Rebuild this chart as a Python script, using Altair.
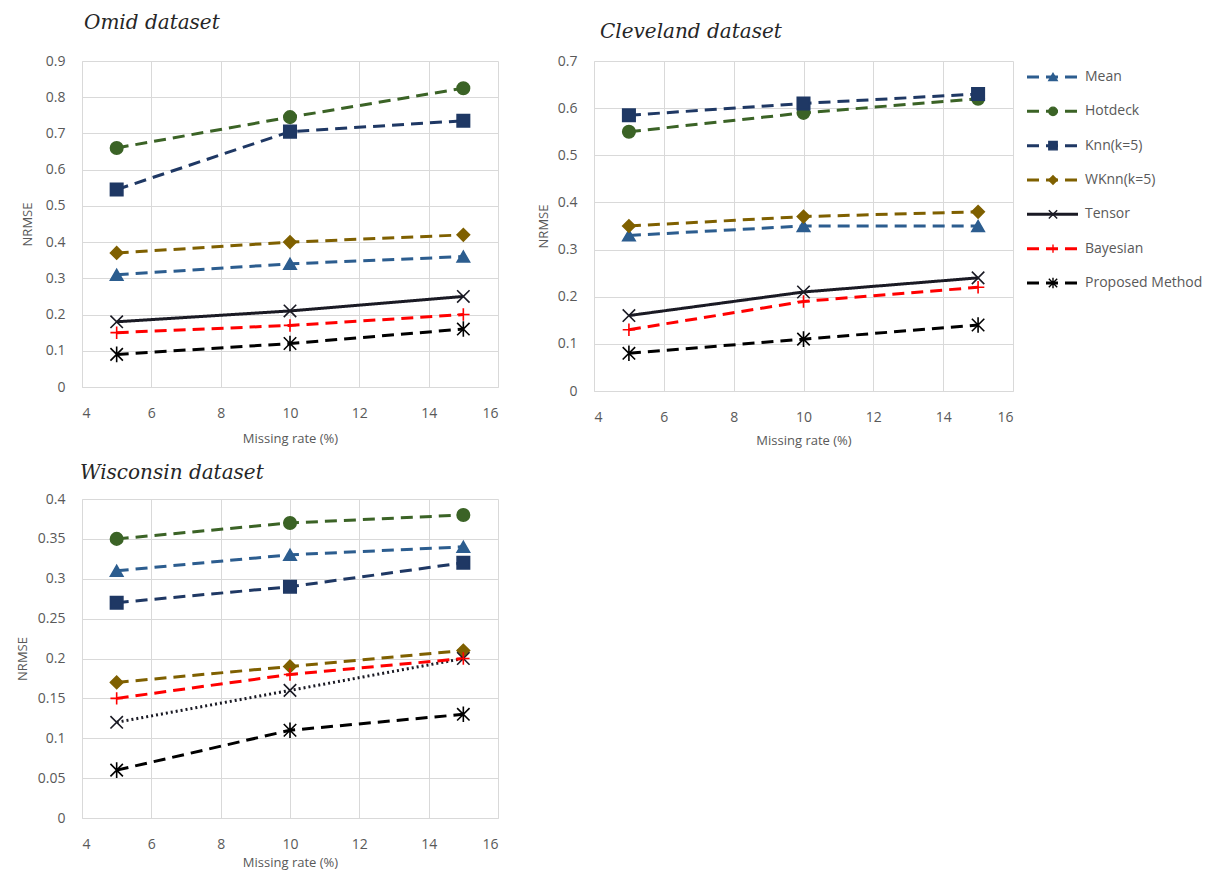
import altair as alt
import pandas as pd

RATES = [5, 10, 15]
SERIES = ["Mean", "Hotdeck", "Knn(k=5)", "WKnn(k=5)", "Tensor", "Bayesian", "Proposed Method"]
COLORS = ["#2C5D8F", "#3B6326", "#1F3864", "#7F6000", "#1A1A24", "#FF0000", "#000000"]

# NRMSE values, one list per method (rates 5, 10, 15)
OMID_MEAN = [0.31, 0.34, 0.36]
OMID_HOTDECK = [0.66, 0.745, 0.825]
OMID_KNN = [0.545, 0.705, 0.735]
OMID_WKNN = [0.37, 0.40, 0.42]
OMID_TENSOR = [0.18, 0.21, 0.25]
OMID_BAYES = [0.15, 0.17, 0.20]
OMID_PROP = [0.09, 0.12, 0.16]

CLEV_MEAN = [0.33, 0.35, 0.35]
CLEV_HOTDECK = [0.55, 0.59, 0.62]
CLEV_KNN = [0.585, 0.61, 0.63]
CLEV_WKNN = [0.35, 0.37, 0.38]
CLEV_TENSOR = [0.16, 0.21, 0.24]
CLEV_BAYES = [0.13, 0.19, 0.22]
CLEV_PROP = [0.08, 0.11, 0.14]

WISC_MEAN = [0.31, 0.33, 0.34]
WISC_HOTDECK = [0.35, 0.37, 0.38]
WISC_KNN = [0.27, 0.29, 0.32]
WISC_WKNN = [0.17, 0.19, 0.21]
WISC_TENSOR = [0.12, 0.16, 0.20]
WISC_BAYES = [0.15, 0.18, 0.20]
WISC_PROP = [0.06, 0.11, 0.13]

OMID_TICKS = [0, 0.1, 0.2, 0.3, 0.4, 0.5, 0.6, 0.7, 0.8, 0.9]
CLEV_TICKS = [0, 0.1, 0.2, 0.3, 0.4, 0.5, 0.6, 0.7]
WISC_TICKS = [0, 0.05, 0.1, 0.15, 0.2, 0.25, 0.3, 0.35, 0.4]
X_TICKS = [4, 6, 8, 10, 12, 14, 16]

SHAPES = [
    "triangle-up",
    "circle",
    "square",
    "diamond",
    "M-1,-1L1,1M-1,1L1,-1",
    "M-1,0L1,0M0,-1L0,1",
    "M-1,-1L1,1M-1,1L1,-1M0,-1.25L0,1.25",
]
DASH = [12, 7]
DASHES_SOLID_TENSOR = [DASH, DASH, DASH, DASH, [1, 0], DASH, DASH]
DASHES_DOTTED_TENSOR = [DASH, DASH, DASH, DASH, [2, 3], DASH, DASH]
WIDTHS = [3, 3, 3, 3, 2.2, 3, 3]

LABEL_FONT = "Open Sans"
GRAY = "#595959"


def make_df(lists):
    rows = []
    for name, vals in zip(SERIES, lists):
        for r, v in zip(RATES, vals):
            rows.append({"series": name, "rate": r, "nrmse": v})
    return pd.DataFrame(rows)


def panel(lists, ymax, ticks, dashes, ytitle_pad, xtitle_pad):
    df = make_df(lists)
    base = alt.Chart(df)
    x = alt.X(
        "rate:Q",
        scale=alt.Scale(domain=[4, 16], nice=False, zero=False),
        axis=alt.Axis(values=X_TICKS, title="Missing rate (%)", titlePadding=xtitle_pad),
    )
    y = alt.Y(
        "nrmse:Q",
        scale=alt.Scale(domain=[0, ymax], nice=False),
        axis=alt.Axis(values=ticks, format="~g", title="NRMSE", titlePadding=ytitle_pad),
    )
    color = alt.Color("series:N", scale=alt.Scale(domain=SERIES, range=COLORS), legend=None)
    lines = base.mark_line().encode(
        x=x,
        y=y,
        color=color,
        strokeDash=alt.StrokeDash("series:N", scale=alt.Scale(domain=SERIES, range=dashes), legend=None),
        strokeWidth=alt.StrokeWidth("series:N", scale=alt.Scale(domain=SERIES, range=WIDTHS), legend=None),
    )
    points = base.mark_point(filled=True, opacity=1, size=155, strokeWidth=1.6).encode(
        x=x,
        y=y,
        color=color,
        stroke=alt.Stroke("series:N", scale=alt.Scale(domain=SERIES, range=COLORS), legend=None),
        shape=alt.Shape("series:N", scale=alt.Scale(domain=SERIES, range=SHAPES), legend=None),
    )
    return alt.layer(lines, points)


def title(text, offset, dx):
    return alt.TitleParams(
        text,
        anchor="start",
        frame="group",
        font="DejaVu Serif",
        fontStyle="italic",
        fontWeight="normal",
        fontSize=20,
        color="#262626",
        offset=offset,
        dx=dx,
    )


# manual legend drawn to the right of the Cleveland plot
CLEV_W = 419
leg_df = pd.DataFrame({"series": SERIES})
leg_base = alt.Chart(leg_df)
leg_y = alt.Y("series:N", sort=SERIES,
              scale=alt.Scale(type="point", domain=SERIES, range=[16, 222], padding=0), axis=None)
leg_color = alt.Color("series:N", scale=alt.Scale(domain=SERIES, range=COLORS), legend=None)
leg_lines = leg_base.mark_rule().encode(
    x=alt.value(CLEV_W + 14),
    x2=alt.value(CLEV_W + 65),
    y=leg_y,
    color=leg_color,
    strokeDash=alt.StrokeDash("series:N", scale=alt.Scale(domain=SERIES, range=DASHES_SOLID_TENSOR), legend=None),
    strokeWidth=alt.StrokeWidth("series:N", scale=alt.Scale(domain=SERIES, range=WIDTHS), legend=None),
)
leg_points = leg_base.mark_point(filled=True, opacity=1, size=70, strokeWidth=1.4).encode(
    x=alt.value(CLEV_W + 40),
    y=leg_y,
    color=leg_color,
    stroke=alt.Stroke("series:N", scale=alt.Scale(domain=SERIES, range=COLORS), legend=None),
    shape=alt.Shape("series:N", scale=alt.Scale(domain=SERIES, range=SHAPES), legend=None),
)
leg_text = leg_base.mark_text(align="left", baseline="middle", font=LABEL_FONT, fontSize=14, color=GRAY).encode(
    x=alt.value(CLEV_W + 72),
    y=leg_y,
    text="series:N",
)
legend = alt.layer(leg_lines, leg_points, leg_text)

omid = panel([OMID_MEAN, OMID_HOTDECK, OMID_KNN, OMID_WKNN, OMID_TENSOR, OMID_BAYES, OMID_PROP],
             0.9, OMID_TICKS, DASHES_SOLID_TENSOR, 11, 12
             ).properties(width=416, height=326, title=title("Omid dataset", 21, 2))

clev = alt.layer(
    panel([CLEV_MEAN, CLEV_HOTDECK, CLEV_KNN, CLEV_WKNN, CLEV_TENSOR, CLEV_BAYES, CLEV_PROP],
          0.7, CLEV_TICKS, DASHES_SOLID_TENSOR, 7, 10),
    legend,
).resolve_scale(y="independent").properties(width=CLEV_W, height=330, title=title("Cleveland dataset", 12, 6))

wisc = panel([WISC_MEAN, WISC_HOTDECK, WISC_KNN, WISC_WKNN, WISC_TENSOR, WISC_BAYES, WISC_PROP],
             0.4, WISC_TICKS, DASHES_DOTTED_TENSOR, 8, 5
             ).properties(width=416, height=319, title=title("Wisconsin dataset", 9, -2))

chart = (
    alt.concat(omid, clev, wisc, columns=2, spacing=alt.RowColnumber(row=108, column=96), bounds="flush")
    .resolve_scale(strokeDash="independent")
    .properties(padding={"left": 7, "top": 4, "right": 5, "bottom": 5})
    .configure_view(stroke="transparent")
    .configure_axis(
        grid=True,
        gridColor="#D9D9D9",
        gridWidth=1,
        domainColor="#D9D9D9",
        domainWidth=1,
        ticks=False,
        labelFont=LABEL_FONT,
        labelFontSize=14,
        labelColor=GRAY,
        titleFont=LABEL_FONT,
        titleFontSize=13,
        titleColor=GRAY,
        titleFontWeight="normal",
    )
    .configure_axisX(labelPadding=19)
    .configure_axisY(labelPadding=17)
)

chart.save("out.html", embed_options={"renderer": "svg", "actions": False})
